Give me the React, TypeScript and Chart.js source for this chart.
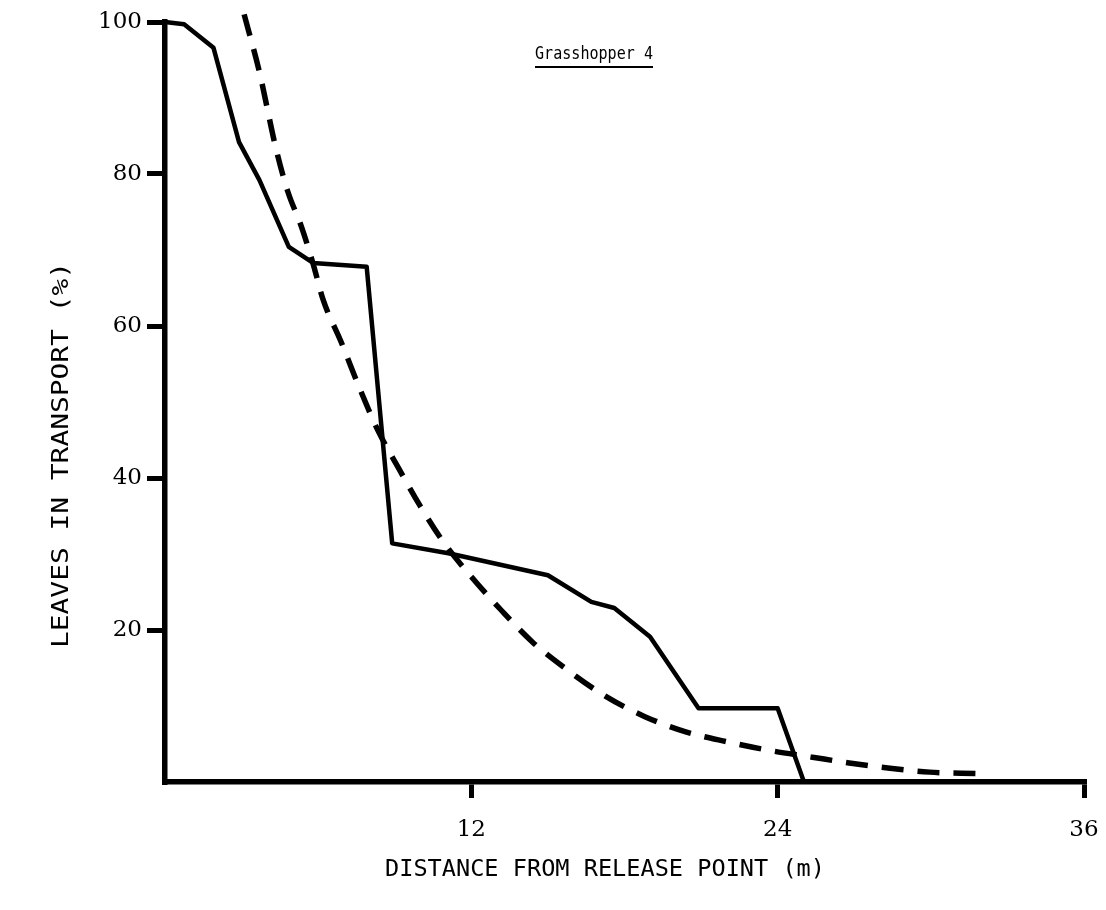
import React, { useEffect, useRef } from 'react';
import { Chart, registerables } from 'chart.js';

Chart.register(...registerables);

// Observed curve (solid)
const solidX = [0, 0.75, 1.9, 2.9, 3.7, 4.85, 5.8, 7.9, 8.9, 11.1, 15.0, 16.7, 17.6, 19.0, 20.9, 24.0, 25.0];
const solidY = [100, 99.7, 96.6, 84.2, 79.2, 70.4, 68.3, 67.8, 31.4, 30.1, 27.2, 23.7, 22.9, 19.1, 9.7, 9.7, 0.3];

// Fitted curve (dashed)
const fitX = [3.1, 3.7, 4.35, 4.8, 5.35, 5.8, 6.2, 6.9, 7.6, 8.35, 9.15, 10.0, 10.9, 12.0, 13.2, 14.4, 15.7, 17.25, 18.8, 20.4, 22.0, 23.6, 25.3, 26.8, 28.4, 29.95, 31.8];
const fitY = [101, 93.4, 83.3, 77.8, 73, 68.2, 63.4, 57.9, 52, 46.2, 41.3, 36.3, 31.6, 27.0, 22.5, 18.4, 14.9, 11.3, 8.6, 6.6, 5.3, 4.2, 3.3, 2.5, 1.8, 1.3, 1.1];

const xTickValues = [12, 24, 36];
const yTickValues = [20, 40, 60, 80, 100];

const chartTitle = 'Grasshopper 4';
const xTitle = 'DISTANCE FROM RELEASE POINT (m)';
const yTitle = 'LEAVES IN TRANSPORT (%)';

export default function App() {
  const ref = useRef<HTMLCanvasElement>(null);

  useEffect(() => {
    const canvas = ref.current;
    if (!canvas) return;

    const textPlugin = {
      id: 'texts',
      afterDraw(chart: any) {
        const ctx = chart.ctx;
        ctx.save();
        ctx.fillStyle = '#000';
        ctx.strokeStyle = '#000';
        // chart title with underline
        ctx.font = '18px "DejaVu Sans Mono"';
        ctx.textAlign = 'left';
        ctx.textBaseline = 'alphabetic';
        const tx = 527;
        const ty = 51;
        const rawW = ctx.measureText(chartTitle).width;
        const sx = 118 / rawW;
        ctx.save();
        ctx.translate(tx, ty);
        ctx.scale(sx, 1);
        ctx.fillText(chartTitle, 0, 0);
        ctx.restore();
        ctx.lineWidth = 2;
        ctx.beginPath();
        ctx.moveTo(tx, 59);
        ctx.lineTo(tx + 118, 59);
        ctx.stroke();
        // x title
        ctx.font = '23px "DejaVu Sans Mono"';
        ctx.textAlign = 'center';
        ctx.textBaseline = 'middle';
        ctx.save();
        ctx.translate(597, 862);
        const xw = ctx.measureText(xTitle).width;
        ctx.scale(440 / xw, 1);
        ctx.fillText(xTitle, 0, 0);
        ctx.restore();
        // y title
        ctx.save();
        ctx.translate(54, 447);
        ctx.rotate(-Math.PI / 2);
        const yw = ctx.measureText(yTitle).width;
        ctx.scale(386 / yw, 1);
        ctx.fillText(yTitle, 0, 0);
        ctx.restore();
        ctx.restore();
      },
    };

    const tickColor = (c: any) => (c.tick && c.tick.value === 0 ? 'rgba(0,0,0,0)' : '#000');

    const chart = new Chart(canvas, {
      type: 'line',
      data: {
        datasets: [
          {
            label: 'observed',
            data: solidX.map((x, i) => ({ x, y: solidY[i] })),
            borderColor: '#000',
            borderWidth: 4.5,
            pointRadius: 0,
            tension: 0,
            fill: false,
            borderJoinStyle: 'round',
            clip: false,
          },
          {
            label: 'fitted',
            data: fitX.map((x, i) => ({ x, y: fitY[i] })),
            borderColor: '#000',
            borderWidth: 5.5,
            borderDash: [22, 14],
            pointRadius: 0,
            tension: 0.4,
            cubicInterpolationMode: 'monotone',
            fill: false,
            clip: false,
          },
        ],
      },
      options: {
        responsive: false,
        devicePixelRatio: 1,
        animation: false,
        layout: { padding: { top: 14, right: 14, left: 0, bottom: 0 } },
        plugins: { legend: { display: false }, tooltip: { enabled: false } },
        scales: {
          x: {
            type: 'linear',
            min: 0,
            max: 36,
            afterBuildTicks: (s: any) => {
              s.ticks = [0, ...xTickValues].map((v) => ({ value: v }));
            },
            afterFit: (s: any) => {
              s.height = 120;
              s.paddingLeft = 0;
              s.paddingRight = 0;
            },
            ticks: {
              callback: (v: any) => (v === 0 ? '' : String(v)),
              color: '#000',
              font: { family: '"DejaVu Serif"', size: 23 },
              padding: 18,
              maxRotation: 0,
              autoSkip: false,
            },
            grid: {
              display: true,
              drawOnChartArea: false,
              tickLength: 16,
              tickWidth: 5,
              lineWidth: 5,
              tickColor: tickColor,
              color: '#000',
            },
            border: { display: true, width: 5.5, color: '#000' },
          },
          y: {
            type: 'linear',
            min: 0,
            max: 100,
            afterBuildTicks: (s: any) => {
              s.ticks = [0, ...yTickValues].map((v) => ({ value: v }));
            },
            afterFit: (s: any) => {
              s.width = 157;
              s.paddingTop = 0;
              s.paddingBottom = 0;
            },
            ticks: {
              callback: (v: any) => (v === 0 ? '' : String(v)),
              color: '#000',
              font: { family: '"DejaVu Serif"', size: 23 },
              padding: 5,
              autoSkip: false,
            },
            grid: {
              display: true,
              drawOnChartArea: false,
              tickLength: 18,
              tickWidth: 5,
              lineWidth: 5,
              tickColor: tickColor,
              color: '#000',
            },
            border: { display: true, width: 5.5, color: '#000' },
          },
        },
      },
      plugins: [textPlugin],
    } as any);

    return () => chart.destroy();
  }, []);

  return (
    <div style={{ width: 1090, height: 894 }}>
      <canvas ref={ref} width={1090} height={894} style={{ display: 'block' }} />
    </div>
  );
}
